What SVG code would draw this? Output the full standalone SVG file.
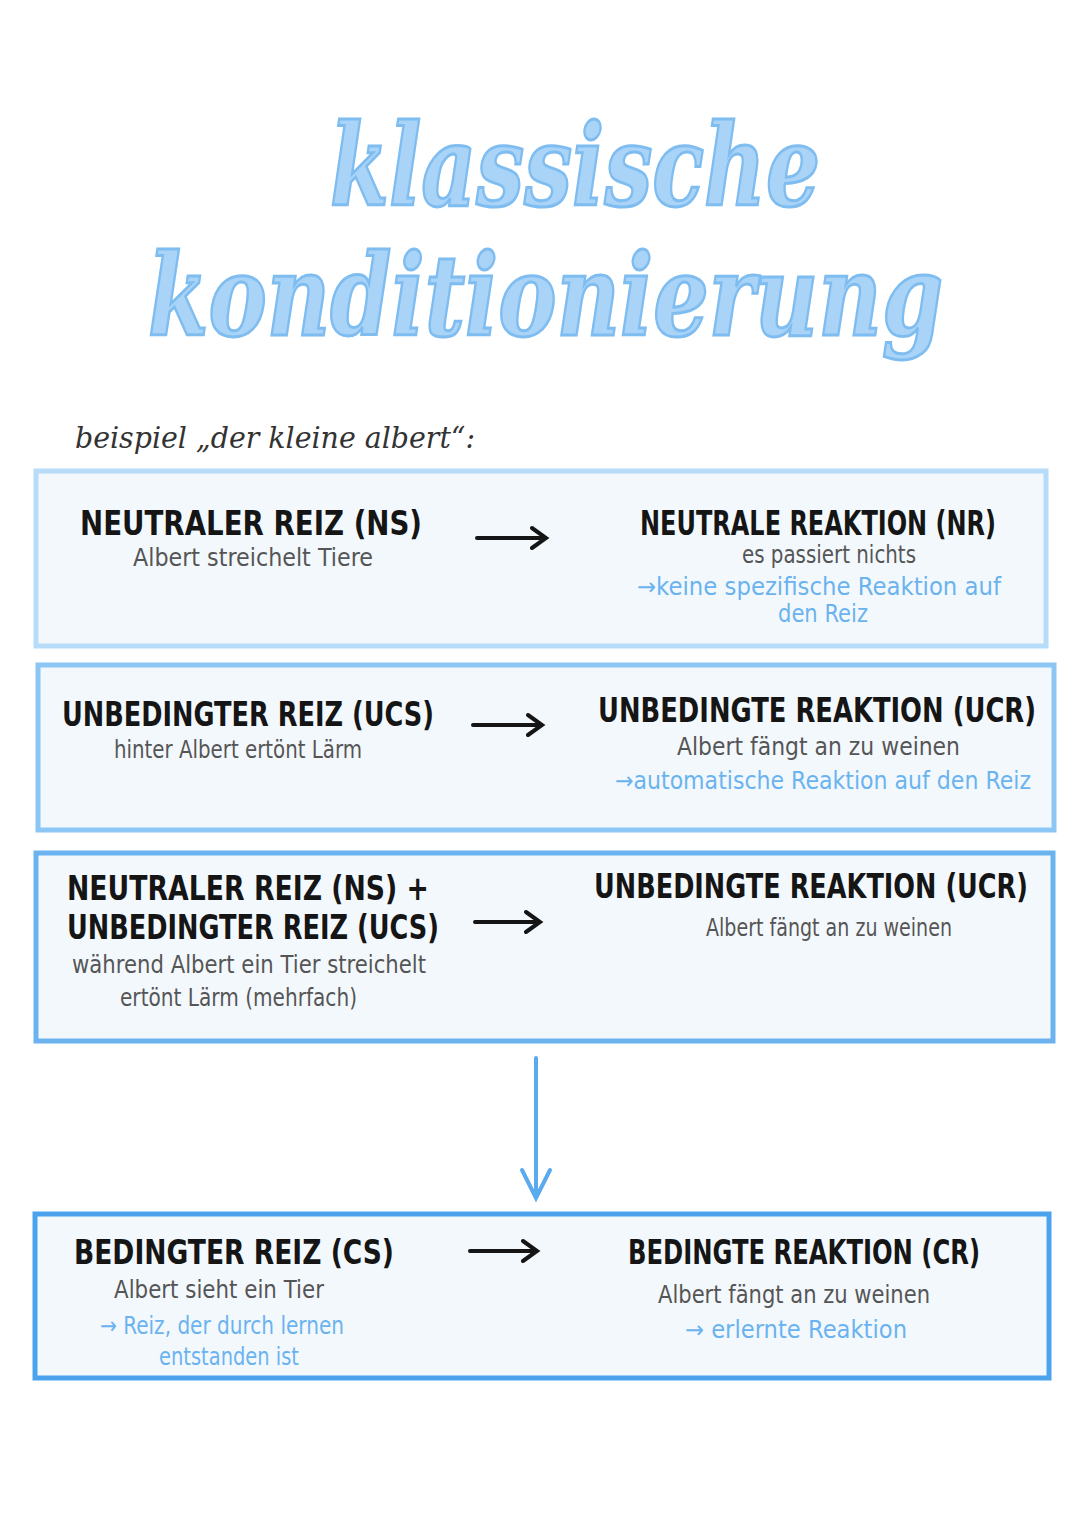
<svg xmlns="http://www.w3.org/2000/svg" width="1080" height="1533" viewBox="0 0 1080 1533">
<style>
.box{fill:#f3f8fd;stroke-width:5}
.h{font-family:"DejaVu Sans",sans-serif;font-weight:bold;font-size:34px;fill:#151515}
.s{font-family:"DejaVu Sans",sans-serif;font-size:24px;fill:#555}
.b{font-family:"DejaVu Sans",sans-serif;font-size:24px;fill:#6ab3ef}
.t{font-family:"DejaVu Serif",serif;font-style:italic;font-weight:bold;font-size:112px;fill:#a9d4f8;stroke:#7fbdf0;stroke-width:3}
.arr{stroke:#151515;stroke-width:4;fill:none;stroke-linecap:round}
</style>
<rect width="1080" height="1533" fill="#fff"/>
<g id="title">
<text class="t" x="330" y="205" textLength="490" lengthAdjust="spacingAndGlyphs">klassische</text>
<text class="t" x="148" y="335" textLength="795" lengthAdjust="spacingAndGlyphs">konditionierung</text>
</g>
<text x="75" y="448" font-family="DejaVu Serif,serif" font-style="italic" font-size="30" fill="#333" textLength="400" lengthAdjust="spacingAndGlyphs">beispiel „der kleine albert“:</text>
<g id="box1">
<rect class="box" x="36" y="471" width="1010" height="175" stroke="#b6dcf9"/>
<text class="h" x="80" y="535" textLength="342" lengthAdjust="spacingAndGlyphs">NEUTRALER REIZ (NS)</text>
<text class="s" x="133" y="566" textLength="240" lengthAdjust="spacingAndGlyphs">Albert streichelt Tiere</text>
<text class="h" x="640" y="535" textLength="356" lengthAdjust="spacingAndGlyphs" font-size="31">NEUTRALE REAKTION (NR)</text>
<text class="s" x="742" y="563" textLength="174" lengthAdjust="spacingAndGlyphs">es passiert nichts</text>
<text class="b" x="637" y="595" textLength="364" lengthAdjust="spacingAndGlyphs">→keine spezifische Reaktion auf</text>
<text class="b" x="778" y="622" textLength="90" lengthAdjust="spacingAndGlyphs">den Reiz</text>
</g>
<g id="box2">
<rect class="box" x="38" y="665" width="1016" height="165" stroke="#8cc6f5"/>
<text class="h" x="62" y="726" textLength="372" lengthAdjust="spacingAndGlyphs">UNBEDINGTER REIZ (UCS)</text>
<text class="s" x="114" y="758" textLength="248" lengthAdjust="spacingAndGlyphs">hinter Albert ertönt Lärm</text>
<text class="h" x="598" y="722" textLength="438" lengthAdjust="spacingAndGlyphs" font-size="32">UNBEDINGTE REAKTION (UCR)</text>
<text class="s" x="677" y="755" textLength="283" lengthAdjust="spacingAndGlyphs">Albert fängt an zu weinen</text>
<text class="b" x="615" y="789" textLength="416" lengthAdjust="spacingAndGlyphs">→automatische Reaktion auf den Reiz</text>
</g>
<g id="box3">
<rect class="box" x="36" y="853" width="1017" height="188" stroke="#6ab3ef"/>
<text class="h" x="67" y="900" textLength="362" lengthAdjust="spacingAndGlyphs">NEUTRALER REIZ (NS) +</text>
<text class="h" x="67" y="939" textLength="372" lengthAdjust="spacingAndGlyphs">UNBEDINGTER REIZ (UCS)</text>
<text class="s" x="72" y="973" textLength="354" lengthAdjust="spacingAndGlyphs">während Albert ein Tier streichelt</text>
<text class="s" x="120" y="1006" textLength="237" lengthAdjust="spacingAndGlyphs">ertönt Lärm (mehrfach)</text>
<text class="h" x="594" y="898" textLength="434" lengthAdjust="spacingAndGlyphs" font-size="32">UNBEDINGTE REAKTION (UCR)</text>
<text class="s" x="706" y="936" textLength="246" lengthAdjust="spacingAndGlyphs">Albert fängt an zu weinen</text>
</g>
<g id="box4">
<rect class="box" x="35" y="1214" width="1014" height="164" stroke="#4aa3ec"/>
<text class="h" x="74" y="1264" textLength="320" lengthAdjust="spacingAndGlyphs">BEDINGTER REIZ (CS)</text>
<text class="s" x="114" y="1298" textLength="210" lengthAdjust="spacingAndGlyphs">Albert sieht ein Tier</text>
<text class="b" x="100" y="1334" textLength="244" lengthAdjust="spacingAndGlyphs">→ Reiz, der durch lernen</text>
<text class="b" x="159" y="1365" textLength="140" lengthAdjust="spacingAndGlyphs">entstanden ist</text>
<text class="h" x="628" y="1264" textLength="352" lengthAdjust="spacingAndGlyphs" font-size="32">BEDINGTE REAKTION (CR)</text>
<text class="s" x="658" y="1303" textLength="272" lengthAdjust="spacingAndGlyphs">Albert fängt an zu weinen</text>
<text class="b" x="685" y="1338" textLength="222" lengthAdjust="spacingAndGlyphs">→ erlernte Reaktion</text>
</g>
<g id="connectors">
<path class="arr" d="M477 538H546M532 528L546 538L532 548"/>
<path class="arr" d="M473 725H542M528 715L542 725L528 735"/>
<path class="arr" d="M475 922H540M526 912L540 922L526 932"/>
<path class="arr" d="M470 1251H537M523 1241L537 1251L523 1261"/>
<path d="M536 1058V1198M522 1170L536 1198L550 1170" stroke="#5aaaee" stroke-width="4" fill="none" stroke-linecap="round"/>
</g>
</svg>
